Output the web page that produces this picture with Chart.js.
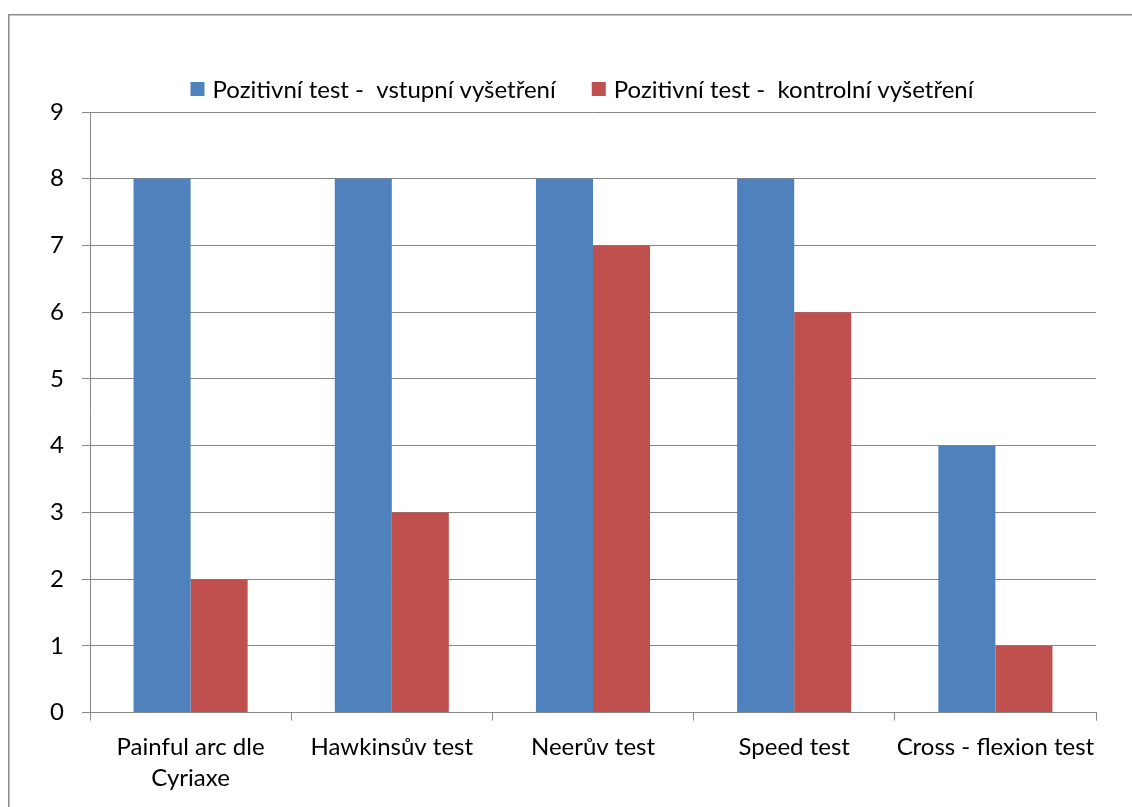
<!DOCTYPE html>
<html>
<head>
<meta charset="utf-8">
<script src="https://cdn.jsdelivr.net/npm/chart.js@4"></script>
<style>
  html, body { margin: 0; padding: 0; background: #ffffff; overflow: hidden; }
  #wrap { position: relative; width: 1132px; height: 807px; }
</style>
</head>
<body>
<div id="wrap"><canvas id="chart" width="1132" height="807"></canvas></div>
<script>
const categories = [
  ["Painful arc dle", "Cyriaxe"],
  "Hawkinsův test",
  "Neerův test",
  "Speed test",
  "Cross - flexion test"
];
const seriesNames = [
  "Pozitivní test -  vstupní vyšetření",
  "Pozitivní test -  kontrolní vyšetření"
];
const vstupni = [8, 8, 8, 8, 4];
const kontrolni = [2, 3, 7, 6, 1];
const yTicks = [0, 1, 2, 3, 4, 5, 6, 7, 8, 9];

const FONT = "Lato, 'Liberation Sans', sans-serif";
const FSIZE = 24;
const GRID = "#868686";

// outer frame of the chart area
const framePlugin = {
  id: 'frame',
  beforeDraw(chart) {
    const ctx = chart.ctx;
    ctx.save();
    ctx.fillStyle = '#ffffff';
    ctx.fillRect(0, 0, chart.width, chart.height);
    ctx.strokeStyle = '#8c8c8c';
    ctx.lineWidth = 1.5;
    ctx.strokeRect(8.75, 14.75, 1300, 1000);
    ctx.restore();
  }
};

// legend row above the plot: square swatch + series name per dataset
const legendRow = {
  id: 'legendRow',
  afterDraw(chart, args, opts) {
    const ctx = chart.ctx;
    ctx.save();
    ctx.font = FSIZE + 'px ' + FONT;
    ctx.textBaseline = 'middle';
    ctx.fillStyle = '#000';
    const items = chart.data.datasets.map(ds => ({
      color: ds.backgroundColor,
      text: ds.label,
      w: ctx.measureText(ds.label).width
    }));
    const box = opts.box, gapText = opts.gapText, gapItem = opts.gapItem;
    const total = items.reduce((s, it) => s + box + gapText + it.w, 0) + gapItem * (items.length - 1);
    let x = opts.centerX - total / 2;
    const y = opts.y;
    items.forEach(it => {
      ctx.fillStyle = it.color;
      ctx.fillRect(x, y - box / 2, box, box);
      ctx.fillStyle = '#000';
      ctx.fillText(it.text, x + box + gapText, y + 1);
      x += box + gapText + it.w + gapItem;
    });
    ctx.restore();
  }
};

new Chart(document.getElementById('chart'), {
  type: 'bar',
  data: {
    labels: categories,
    datasets: [
      { label: seriesNames[0], data: vstupni, backgroundColor: '#4F81BD', borderWidth: 0 },
      { label: seriesNames[1], data: kontrolni, backgroundColor: '#C0504D', borderWidth: 0 }
    ]
  },
  options: {
    responsive: false,
    animation: false,
    devicePixelRatio: 1,
    layout: { padding: { top: 112, right: 36, bottom: 2, left: 0 } },
    datasets: {
      bar: { categoryPercentage: 0.567, barPercentage: 1.0 }
    },
    plugins: {
      legend: { display: false },
      legendRow: { centerX: 582, y: 89, box: 14, gapText: 8, gapItem: 36 },
      tooltip: { enabled: false }
    },
    scales: {
      x: {
        grid: {
          display: true,
          drawOnChartArea: false,
          drawTicks: true,
          tickLength: 8,
          color: GRID,
          offset: true
        },
        border: { display: true, color: GRID, width: 1 },
        ticks: {
          color: '#000000',
          font: { family: FONT, size: FSIZE, lineHeight: 1.3 },
          padding: 11,
          maxRotation: 0,
          autoSkip: false
        }
      },
      y: {
        min: 0,
        max: 9,
        afterFit(scale) { scale.width = 90; },
        afterBuildTicks(scale) { scale.ticks = yTicks.map(v => ({ value: v })); },
        grid: {
          color: GRID,
          lineWidth: 1,
          drawTicks: true,
          tickLength: 8
        },
        border: { display: true, color: GRID, width: 1 },
        ticks: {
          color: '#000000',
          font: { family: FONT, size: FSIZE },
          padding: 18
        }
      }
    }
  },
  plugins: [framePlugin, legendRow]
});
</script>
</body>
</html>
